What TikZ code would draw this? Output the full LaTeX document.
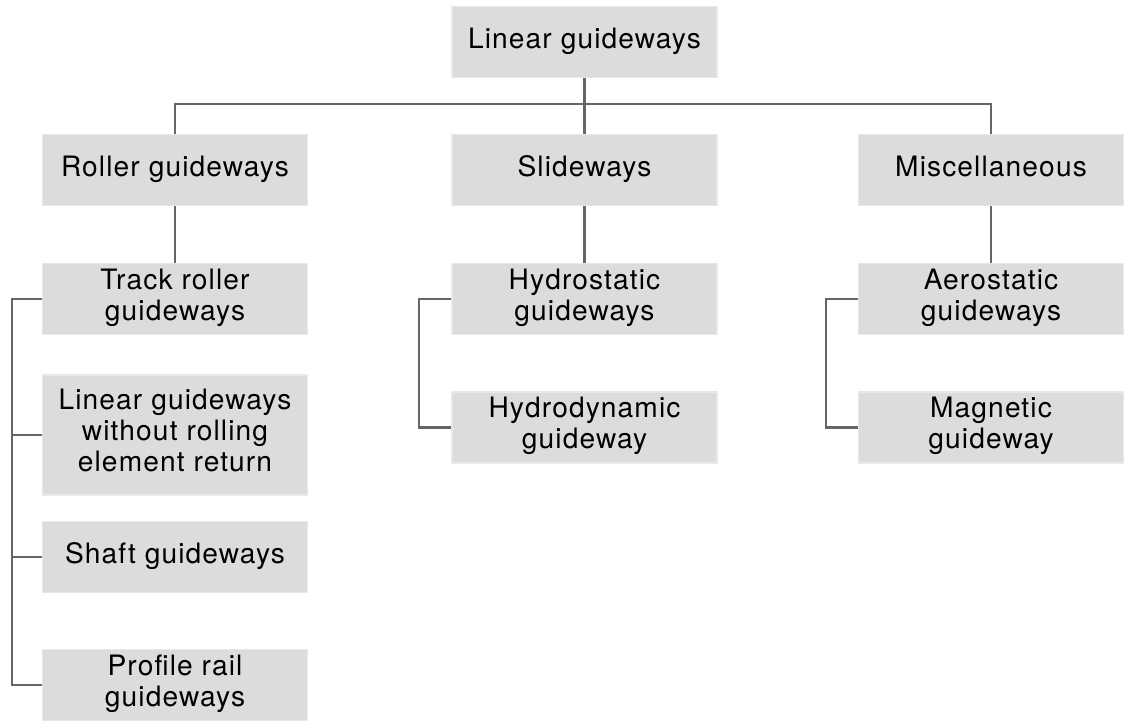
\documentclass[tikz,border=0pt]{standalone}
\usepackage{fontspec}
\setmainfont[LetterSpace=4]{TeX Gyre Heros}
\usepackage{tikz}

\tikzset{
  guide/.style={fill=boxgray,draw=boxedge,line width=0.6pt,minimum width=5.3cm,minimum height=1.42cm,
    align=center,inner sep=2pt,font=\fontsize{16}{17.5}\selectfont,execute at end node=\strut},
  wire/.style={draw=wiregray,line width=1.3pt}
}
\definecolor{boxgray}{HTML}{DCDCDC}
\definecolor{boxedge}{HTML}{E8E8E8}
\definecolor{wiregray}{HTML}{666666}

\begin{document}
\begin{tikzpicture}
\useasboundingbox (0,0) rectangle (22.52,14.4);
\node[guide] (LG)at(11.69,13.56){Linear guideways};
\node[guide] (RG)at(3.5,11.0){Roller guideways};
\node[guide] (SW)at(11.69,11.0){Slideways};
\node[guide] (MI)at(19.82,11.0){Miscellaneous};
\node[guide] (TR)at(3.5,8.42){Track roller\\guideways};
\node[guide,minimum height=2.4cm] (LW)at(3.5,5.7){Linear guideways\\without rolling\\element return};
\node[guide] (SG)at(3.5,3.26){Shaft guideways};
\node[guide] (PR)at(3.5,0.7){Profile rail\\guideways};
\node[guide] (HS)at(11.69,8.42){Hydrostatic\\guideways};
\node[guide] (HD)at(11.69,5.85){Hydrodynamic\\guideway};
\node[guide] (AE)at(19.82,8.42){Aerostatic\\guideways};
\node[guide] (MG)at(19.82,5.85){Magnetic\\guideway};
\coordinate (bus)at(11.69,12.32);
\coordinate (railL)at(0.24,0);
\coordinate (railS)at(8.38,0);
\coordinate (railM)at(16.52,0);
\draw[wire] (LG) to (SW);
\draw[wire] (RG.north) -- (RG.north |- bus) -- (MI.north |- bus) -- (MI.north);
\draw[wire] (RG) to (TR);
\draw[wire] (MI) to (AE);
\draw[wire] (SW) to (HS);
\draw[wire] (TR.west) -- (TR.west -| railL) -- (PR.west -| railL) -- (PR.west);
\draw[wire] (LW.west) -- (LW.west -| railL);
\draw[wire] (SG.west) -- (SG.west -| railL);
\draw[wire] (HS.west) -- (HS.west -| railS) -- (HD.west -| railS) -- (HD.west);
\draw[wire] (AE.west) -- (AE.west -| railM) -- (MG.west -| railM) -- (MG.west);
\end{tikzpicture}
\end{document}
